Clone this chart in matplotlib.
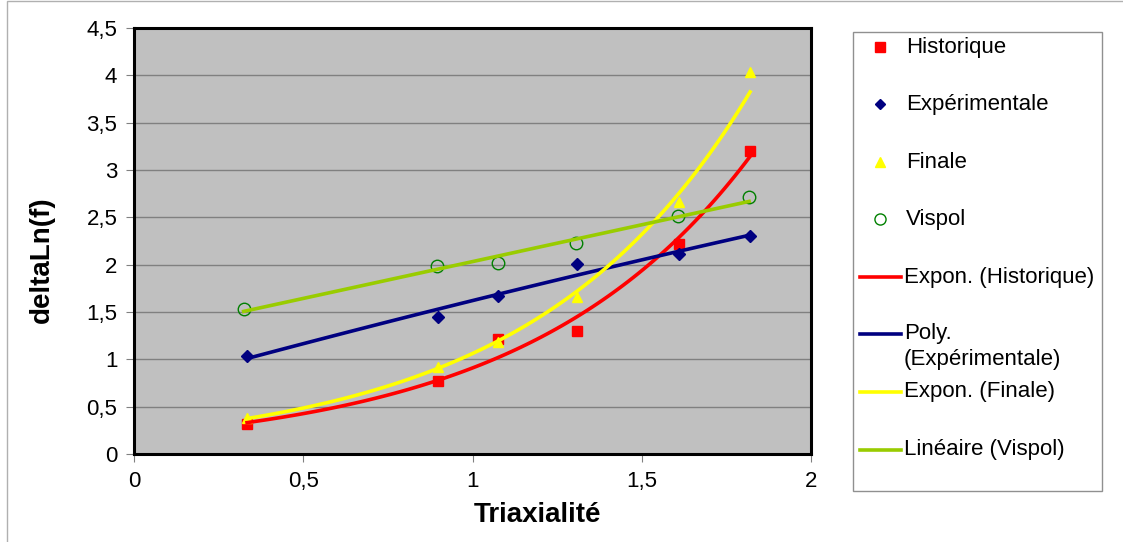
import numpy as np
import matplotlib
matplotlib.use("Agg")
import matplotlib.pyplot as plt
from matplotlib.lines import Line2D
from matplotlib.patches import Rectangle
from matplotlib.ticker import FuncFormatter, MultipleLocator

plt.rcParams["font.family"] = ["Liberation Sans", "DejaVu Sans"]

# data (Triaxialité -> deltaLn(f))
x_hist = [0.334, 0.898, 1.076, 1.31, 1.61, 1.82]
y_hist = [0.32, 0.77, 1.21, 1.30, 2.22, 3.20]

x_exp = [0.334, 0.898, 1.076, 1.31, 1.61, 1.82]
y_exp = [1.03, 1.45, 1.67, 2.01, 2.11, 2.30]

x_fin = [0.334, 0.898, 1.076, 1.31, 1.61, 1.82]
y_fin = [0.38, 0.92, 1.18, 1.66, 2.66, 4.04]

x_vis = [0.324, 0.895, 1.074, 1.306, 1.607, 1.817]
y_vis = [1.53, 1.99, 2.02, 2.23, 2.51, 2.71]

W, H = 1123, 542


def fx(px):
    return px / W


def fy(py):
    return 1 - py / H


def comma(v, _):
    return f"{v:g}".replace(".", ",")


def expo_fit(x, y):
    b, ln_a = np.polyfit(x, np.log(y), 1)
    xs = np.linspace(min(x), max(x), 100)
    return xs, np.exp(ln_a) * np.exp(b * xs)


def poly_fit(x, y, deg):
    c = np.polyfit(x, y, deg)
    xs = np.linspace(min(x), max(x), 100)
    return xs, np.polyval(c, xs)


fig = plt.figure(figsize=(W / 100, H / 100), dpi=100)
ax = fig.add_axes([fx(134), fy(454), fx(811) - fx(134), fy(28) - fy(454)])
ax.set_facecolor("#C0C0C0")

# points
ax.plot(x_hist, y_hist, "s", color="#FF0000", ms=6.5, ls="none", zorder=3)
ax.plot(x_exp, y_exp, "D", color="#000080", ms=6, ls="none", zorder=3)
ax.plot(x_fin, y_fin, "^", color="#FFFF00", ms=7.5, ls="none", zorder=3)
ax.plot(x_vis, y_vis, "o", mfc="none", mec="#008000", ms=9, mew=1, ls="none", zorder=3)

# trendlines (same fits the spreadsheet used)
xs, ys = expo_fit(x_hist, y_hist)
ax.plot(xs, ys, color="#FF0000", lw=2.6, zorder=4)
xs, ys = poly_fit(x_exp, y_exp, 2)
ax.plot(xs, ys, color="#000080", lw=2.6, zorder=4)
xs, ys = expo_fit(x_fin, y_fin)
ax.plot(xs, ys, color="#FFFF00", lw=2.6, zorder=4)
xs, ys = poly_fit(x_vis, y_vis, 1)
ax.plot(xs, ys, color="#99CC00", lw=2.6, zorder=4)

ax.set_xlim(0, 2)
ax.set_ylim(0, 4.5)
ax.xaxis.set_major_locator(MultipleLocator(0.5))
ax.yaxis.set_major_locator(MultipleLocator(0.5))
ax.xaxis.set_major_formatter(FuncFormatter(comma))
ax.yaxis.set_major_formatter(FuncFormatter(comma))
ax.grid(axis="y", color="#808080", lw=1)
ax.set_axisbelow(True)
for sp in ax.spines.values():
    sp.set_linewidth(2.2)
    sp.set_color("black")
ax.tick_params(axis="both", labelsize=16, length=6, width=0.8, color="#808080",
               direction="out", pad=6)

# axis titles, placed where the spreadsheet put them
fig.text(fx(537), fy(515), "Triaxialité", fontsize=20, fontweight="bold",
         ha="center", va="center")
fig.text(fx(42), fy(260), "deltaLn(f)", fontsize=20, fontweight="bold",
         ha="center", va="center", rotation=90)

# outer chart border
fig.add_artist(Rectangle((fx(6.5), -0.1), 1.2, fy(0.5) + 0.1, transform=fig.transFigure,
                         fill=False, ec="#B0B0B0", lw=1))

# legend, drawn by hand to match the spreadsheet layout
fig.add_artist(Rectangle((fx(853), fy(491)), fx(1102) - fx(853), fy(32) - fy(491),
                         transform=fig.transFigure, fill=False, ec="#909090", lw=1))
marker_keys = [
    ("Historique", 47, dict(marker="s", color="#FF0000", ms=6.5)),
    ("Expérimentale", 104, dict(marker="D", color="#000080", ms=5)),
    ("Finale", 162, dict(marker="^", color="#FFFF00", ms=7)),
    ("Vispol", 219, dict(marker="o", mfc="none", mec="#008000", ms=8, mew=1)),
]
for label, py, style in marker_keys:
    fig.add_artist(Line2D([fx(880)], [fy(py)], transform=fig.transFigure, ls="none", **style))
    fig.text(fx(906), fy(py), label, fontsize=16, va="center", ha="left")

line_keys = [
    (["Expon. (Historique)"], 277, "#FF0000"),
    (["Poly.", "(Expérimentale)"], 334, "#000080"),
    (["Expon. (Finale)"], 392, "#FFFF00"),
    (["Linéaire (Vispol)"], 450, "#99CC00"),
]
for lines, py, col in line_keys:
    fig.add_artist(Line2D([fx(860), fx(901)], [fy(py), fy(py)], transform=fig.transFigure,
                          color=col, lw=2.6))
    for i, t in enumerate(lines):
        fig.text(fx(904), fy(py + 25 * i), t, fontsize=16, va="center", ha="left")

fig.savefig("out.png", dpi=100)
